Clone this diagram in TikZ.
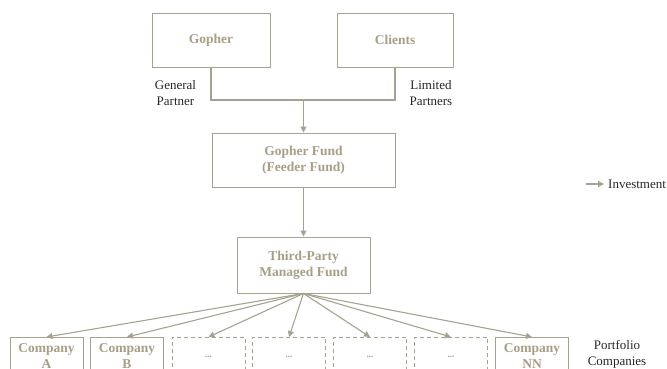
\documentclass[tikz,border=0pt]{standalone}
\usepackage{fontspec}
\setmainfont{Liberation Serif}
\usetikzlibrary{arrows.meta}
\definecolor{edge}{HTML}{A5A390}
\definecolor{ink}{HTML}{A89E86}
\tikzset{
  x=1pt,y=-1pt,
  box/.style={draw=edge,line width=0.9pt,minimum height=54pt,align=center,inner sep=2pt,
    font=\fontsize{13.5}{16}\selectfont\bfseries,text=ink},
  cobox/.style={box,minimum width=73pt,minimum height=38pt,anchor=north},
  dbox/.style={cobox,dashed,dash pattern=on 4pt off 3pt,font=\fontsize{9}{11}\selectfont\bfseries},
  lbl/.style={align=center,font=\fontsize{13}{16}\selectfont,text=black!85,inner sep=0pt},
  conn/.style={draw=edge,line width=1.1pt},
  arr/.style={conn,-{Triangle[length=6pt,width=6pt]}},
}
\begin{document}
\begin{tikzpicture}
\useasboundingbox (0,0) rectangle (667,369);
\clip (0,0) rectangle (667,369);
\node[box,minimum width=118pt] (gopher) at (211,40) {Gopher};
\node[box,minimum width=116pt] (clients) at (395,40) {Clients};
\node[box,minimum width=183pt] (feeder) at (303.5,160) {Gopher Fund\\(Feeder Fund)};
\node[box,minimum width=133pt,minimum height=56pt] (third) at (303.5,265) {Third-Party\\Managed Fund};
\coordinate (join) at (303.5,100);
\draw[conn] (gopher.south) |- (join) -| (clients.south);
\draw[arr] (join) -- (feeder.north);
\draw[arr] (feeder.south) -- (third.north);
\node[cobox] (ca) at (46.5,337) {Company\\A};
\node[cobox] (cb) at (127,337) {Company\\B};
\node[dbox] (d1) at (208.5,337) {...};
\node[dbox] (d2) at (289,337) {...};
\node[dbox] (d3) at (370,337) {...};
\node[dbox] (d4) at (451,337) {...};
\node[cobox] (cn) at (532,337) {Company\\NN};
\foreach \n in {ca,cb,d1,d2,d3,d4,cn} \draw[arr] (third.south) -- (\n.north);
\node[lbl] (gp) at (175.5,93) {General\\Partner};
\node[lbl] (lp) at (431,93) {Limited\\Partners};
\node[lbl] (pc) at (617,354) {Portfolio\\Companies};
\coordinate (la) at (586,184);
\coordinate (lb) at (604,184);
\draw[arr] (la) -- (lb);
\node[lbl,anchor=west] (inv) at (608,184) {Investment};
\end{tikzpicture}
\end{document}
